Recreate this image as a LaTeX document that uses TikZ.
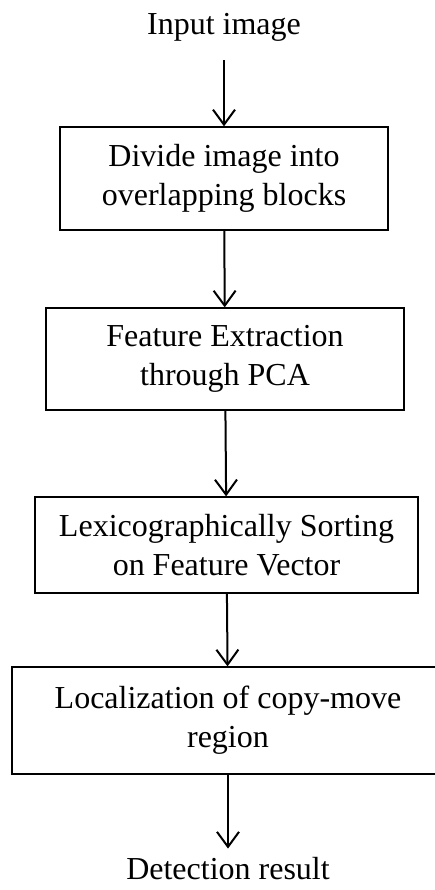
\documentclass[tikz,border=0pt]{standalone}
\usepackage{fontspec}
\setmainfont{Liberation Serif}
\usetikzlibrary{arrows.meta}

\tikzset{
  stagebox/.style={draw, line width=1.3pt, align=center, inner sep=0pt,
    font=\fontsize{32}{39}\selectfont},
  iotext/.style={inner sep=0pt, font=\fontsize{32}{39}\selectfont},
  flow/.style={-{Straight Barb[length=15pt,width=22pt,line width=2pt]}, line width=2pt}
}

\begin{document}
\begin{tikzpicture}[x=1pt, y=-1pt]
    \useasboundingbox (0,0) rectangle (435,890);
    \node[iotext] (input) at (224, 27) {Input image};
    \node[stagebox, minimum width=328, minimum height=103] (divide) at (224, 178.5) {Divide image into\\overlapping blocks};
    \node[stagebox, minimum width=358, minimum height=102] (pca) at (225, 359) {Feature Extraction\\through PCA};
    \node[stagebox, minimum width=383, minimum height=96] (sort) at (226.5, 545) {Lexicographically Sorting\\on Feature Vector};
    \node[stagebox, minimum width=432, minimum height=107] (local) at (228, 720.5) {Localization of copy-move\\region};
    \node[iotext] (result) at (228, 869) {Detection result};
    \draw [flow, shorten <=19pt] (input) to (divide);
    \draw [flow] (divide) to (pca);
    \draw [flow] (pca) to (sort);
    \draw [flow] (sort) to (local);
    \draw [flow, shorten >=9pt] (local) to (result);
  \end{tikzpicture}
\end{document}
